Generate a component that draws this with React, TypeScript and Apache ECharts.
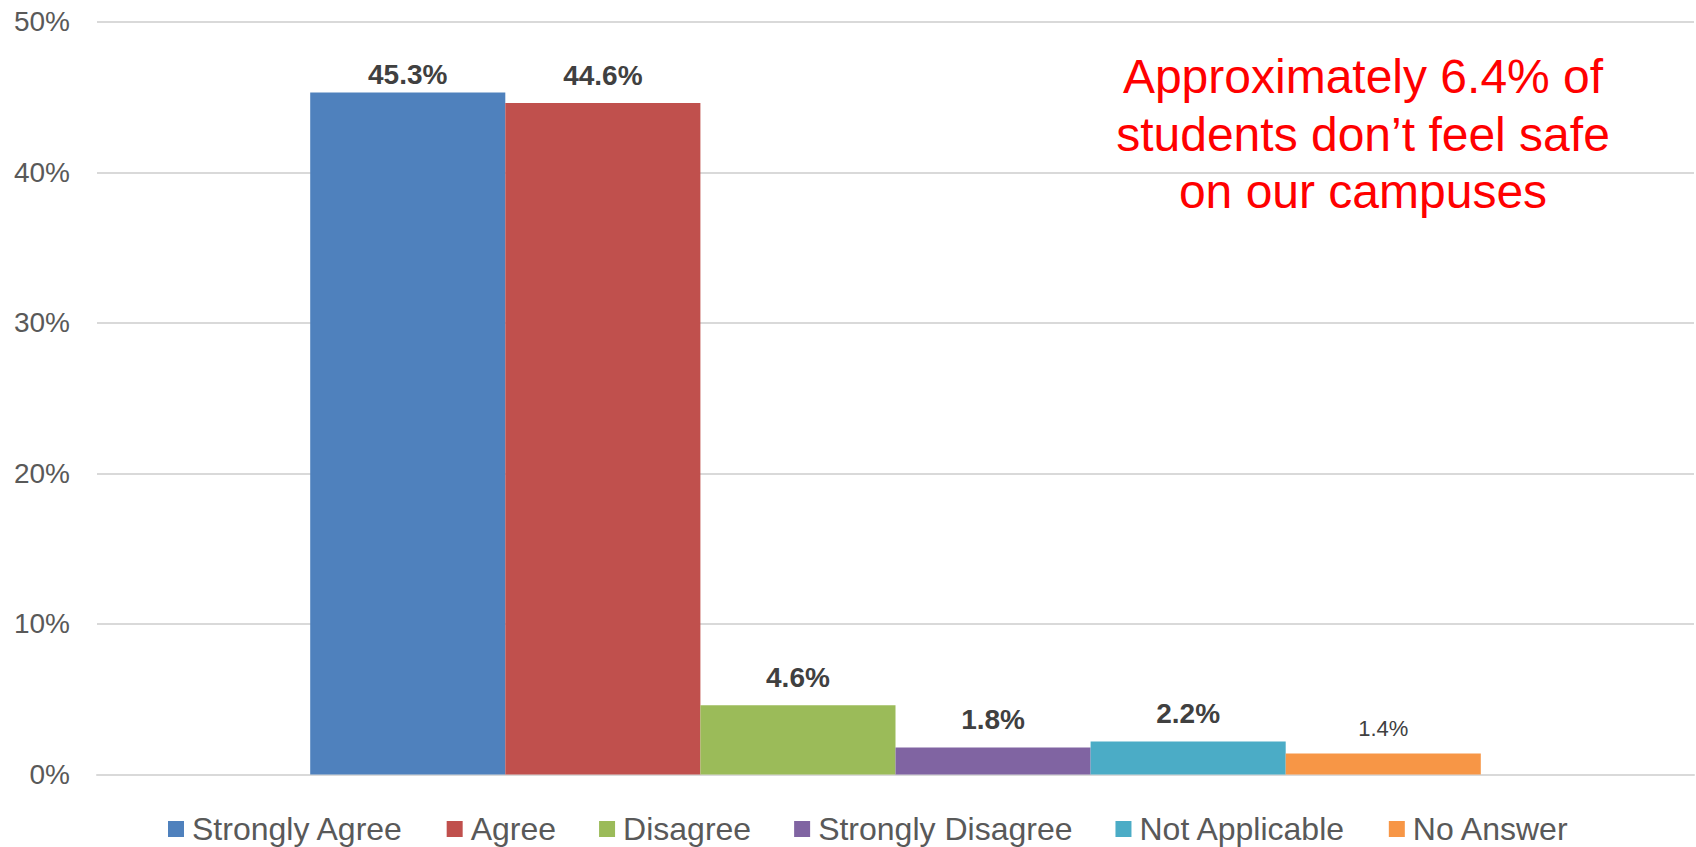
import React, { useEffect, useRef } from "react";
import * as echarts from "echarts";

const seriesNames = [
  "Strongly Agree",
  "Agree",
  "Disagree",
  "Strongly Disagree",
  "Not Applicable",
  "No Answer",
];
const seriesValues = [45.3, 44.6, 4.6, 1.8, 2.2, 1.4];
const seriesColors = ["#4F81BD", "#C0504D", "#9BBB59", "#8064A2", "#4BACC6", "#F79646"];
const categories = ["Feel safe on campus"];
const yTicks = { min: 0, max: 50, interval: 10 };
const annotationText = "Approximately 6.4% of\nstudents don\u2019t feel safe\non our campuses";

const FONT = "'Liberation Sans', Arial, sans-serif";

export default function App() {
  const ref = useRef<HTMLDivElement>(null);

  useEffect(() => {
    if (!ref.current) return;
    const chart = echarts.init(ref.current, null, { renderer: "svg" });

    const series = seriesNames.map((name, i) => {
      const small = i === seriesNames.length - 1;
      return {
        name,
        type: "bar",
        data: [seriesValues[i]],
        barGap: "0%",
        barCategoryGap: "26.7%",
        itemStyle: { color: seriesColors[i] },
        label: {
          show: true,
          position: "top",
          distance: i === 0 ? 4 : 13.6,
          formatter: (p: any) => `${p.value}%`,
          color: "#404040",
          fontFamily: FONT,
          fontSize: small ? 22 : 28,
          fontWeight: small ? "normal" : "bold",
        },
      };
    });

    chart.setOption({
      animation: false,
      backgroundColor: "#ffffff",
      textStyle: { fontFamily: FONT },
      grid: { left: 97, right: 2, top: 21.7, bottom: 72.5, containLabel: false },
      legend: {
        data: seriesNames,
        left: 163,
        top: 808,
        icon: "rect",
        itemWidth: 16,
        itemHeight: 16,
        itemGap: 43,
        textStyle: {
          fontFamily: FONT,
          fontSize: 32,
          color: "#595959",
          padding: [0, 0, 0, 3],
        },
      },
      xAxis: {
        type: "category",
        data: categories,
        axisLabel: { show: false },
        axisTick: { show: false },
        axisLine: { show: true, lineStyle: { color: "#D9D9D9", width: 2 } },
      },
      yAxis: {
        type: "value",
        min: yTicks.min,
        max: yTicks.max,
        interval: yTicks.interval,
        axisLine: { show: false },
        axisTick: { show: false },
        axisLabel: {
          formatter: "{value}%",
          fontFamily: FONT,
          fontSize: 28,
          color: "#595959",
          margin: 27,
        },
        splitLine: { lineStyle: { color: "#D9D9D9", width: 2 } },
      },
      graphic: [
        {
          type: "text",
          x: 1363,
          y: 134.4,
          style: {
            text: annotationText,
            fill: "#FF0000",
            font: `48px ${FONT}`,
            fontSize: 48,
            fontFamily: FONT,
            lineHeight: 57.5,
            textAlign: "center",
            textVerticalAlign: "middle",
          },
        },
      ],
      series,
    });

    return () => chart.dispose();
  }, []);

  return (
    <div
      ref={ref}
      style={{ position: "fixed", left: 0, top: 0, width: 1696, height: 847, background: "#fff" }}
    />
  );
}
